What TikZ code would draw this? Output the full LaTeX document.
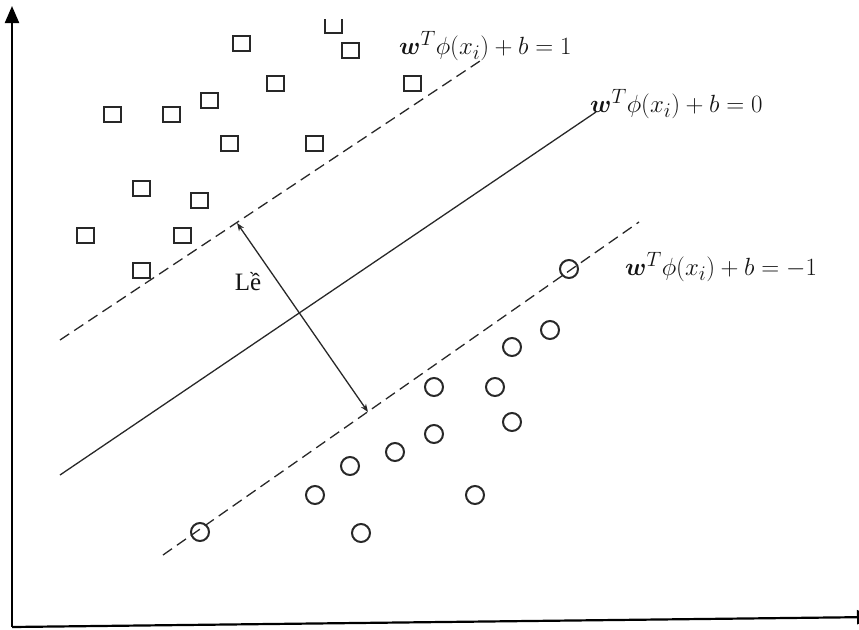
\documentclass[tikz,border=0pt]{standalone}
\usepackage{fontspec}
\setmainfont{Liberation Serif}
\usepackage{amsmath}
\usepackage{tikz}
\usetikzlibrary{arrows.meta, positioning, calc}
\definecolor{SVMLine}{RGB}{40, 40, 40}
\definecolor{SVMText}{RGB}{20, 20, 20}

\tikzset{
  sqpt/.style={draw=SVMLine, line width=2pt, rectangle, minimum width=17pt, minimum height=15pt, inner sep=0pt},
  circpt/.style={draw=SVMLine, line width=2pt, circle, minimum size=18pt, inner sep=0pt},
  hyperline/.style={draw=SVMLine, line width=1.3pt},
  marginline/.style={hyperline, dash pattern=on 11pt off 6pt},
  eqlabel/.style={text=SVMText, inner sep=0pt, font=\fontsize{29}{32}\selectfont}
}

\begin{document}
\begin{tikzpicture}[x=1pt, y=-1pt]
    \path[use as bounding box] (0,0) rectangle (859,629);
    \clip (0,0) rectangle (859,629);
    % axes
    \coordinate (origin) at (12,627);
    \coordinate (ytop) at (12,6);
    \coordinate (xend) at (874,617);
    \draw[line width=2.2pt, -{Triangle[length=17pt, width=14pt]}] (origin) -- (ytop);
    \draw[line width=2.2pt, -{Triangle[length=17pt, width=14pt]}] (origin) -- (xend);

    % hyperplane and margins
    \coordinate (up-a) at (60,340);
    \coordinate (up-b) at (483,59);
    \coordinate (mid-a) at (60,475);
    \coordinate (mid-b) at (596,112);
    \coordinate (low-a) at (163,555);
    \coordinate (low-b) at (639,222);
    \draw[marginline] (up-a) -- (up-b);
    \draw[hyperline] (mid-a) -- (mid-b);
    \draw[marginline] (low-a) -- (low-b);

    % margin width
    \coordinate (gap-top) at (237,223);
    \coordinate (gap-bot) at (368,412);
    \draw[hyperline, {Stealth[length=8pt, width=6pt]}-{Stealth[length=8pt, width=6pt]}] (gap-top) -- (gap-bot);
    \node[text=SVMText, font=\fontsize{25}{28}\selectfont] (gap-label) at (248,282) {Lề};

    % class +1
    \foreach \px/\py [count=\k] in {241/43, 350/50, 275/83, 412/83, 112/114, 171/114, 209/100,
        229/143, 314/143, 141/188, 199/200, 85/235, 182/235, 141/270}
      \node[sqpt] (sq-\k) at (\px,\py) {};
    \draw[SVMLine, line width=2pt] (324.5,19) -- (324.5,33) -- (341.5,33) -- (341.5,19);

    % class -1
    \foreach \px/\py [count=\k] in {569/269, 550/330, 512/347, 434/387, 495/387, 512/422, 434/434,
        395/452, 350/466, 315/495, 475/495, 200/532, 361/533}
      \node[circpt] (ci-\k) at (\px,\py) {};

    % equations
    \node[eqlabel, anchor=west] (eq-up) at (399,46) {$\boldsymbol{w}^{T}\phi(x_i)+b=1$};
    \node[eqlabel, anchor=west] (eq-mid) at (590,104) {$\boldsymbol{w}^{T}\phi(x_i)+b=0$};
    \node[eqlabel, anchor=west] (eq-low) at (625,267) {$\boldsymbol{w}^{T}\phi(x_i)+b=-1$};
  \end{tikzpicture}
\end{document}
